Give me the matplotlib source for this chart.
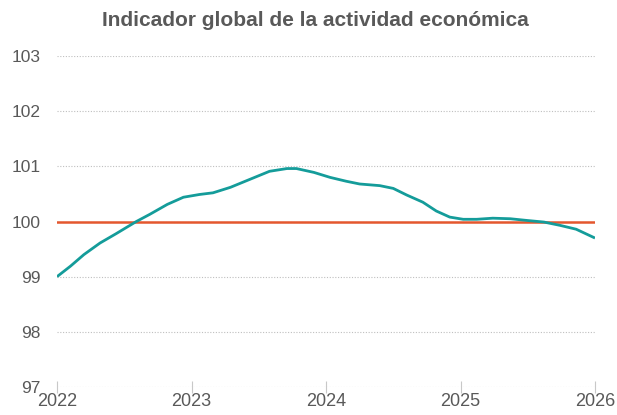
import numpy as np
import matplotlib.pyplot as plt

# valores (fecha en fraccion de año)
fechas = [2022.00, 2022.10, 2022.20, 2022.32, 2022.44, 2022.59, 2022.69, 2022.82,
          2022.94, 2023.06, 2023.16, 2023.29, 2023.34, 2023.46, 2023.58, 2023.71,
          2023.78, 2023.91, 2024.03, 2024.15, 2024.25, 2024.40, 2024.50, 2024.60,
          2024.72, 2024.82, 2024.92, 2025.02, 2025.12, 2025.24, 2025.37, 2025.49,
          2025.62, 2025.74, 2025.86, 2026.00]
igae = [99.00, 99.19, 99.40, 99.61, 99.78, 100.00, 100.13, 100.31,
        100.44, 100.49, 100.52, 100.62, 100.67, 100.79, 100.91, 100.96,
        100.96, 100.89, 100.80, 100.73, 100.68, 100.65, 100.60, 100.48,
        100.35, 100.19, 100.08, 100.04, 100.04, 100.06, 100.05, 100.02,
        99.99, 99.93, 99.86, 99.70]
referencia = 100
anios = [2022, 2023, 2024, 2025, 2026]
yticks = [97, 98, 99, 100, 101, 102, 103]

plt.rcParams['font.family'] = ['Liberation Sans', 'DejaVu Sans']
gris = '#595959'

fig = plt.figure(figsize=(6.17, 4.15), dpi=100)
ax = fig.add_axes([57/617, 1-387/415, (595-57)/617, (387-56)/415])

for y in yticks:
    ax.axhline(y, color='#bfbfbf', lw=0.8, ls=(0, (1, 1.5)), zorder=1)

ax.axhline(referencia, color='#e4572e', lw=1.8, zorder=2)
ax.plot(fechas, igae, color='#149c9a', lw=2.0, zorder=3,
        solid_joinstyle='round', solid_capstyle='butt')

ax.set_xlim(2022, 2026)
ax.set_ylim(97, 103)
ax.set_xticks(anios)
ax.set_xticklabels([str(a) for a in anios])
ax.set_yticks(yticks)
for s in ax.spines.values():
    s.set_visible(False)
ax.tick_params(axis='y', length=0, pad=12, labelsize=12.5, labelcolor=gris)
ax.tick_params(axis='x', direction='inout', length=8, width=0.8, color='#c8c8c8',
               pad=0, labelsize=13, labelcolor=gris)

fig.text(315/617, 1-21/415, 'Indicador global de la actividad económica', ha='center',
         va='center', fontsize=15, fontweight='bold', color=gris)

fig.savefig('out.png', dpi=100)
